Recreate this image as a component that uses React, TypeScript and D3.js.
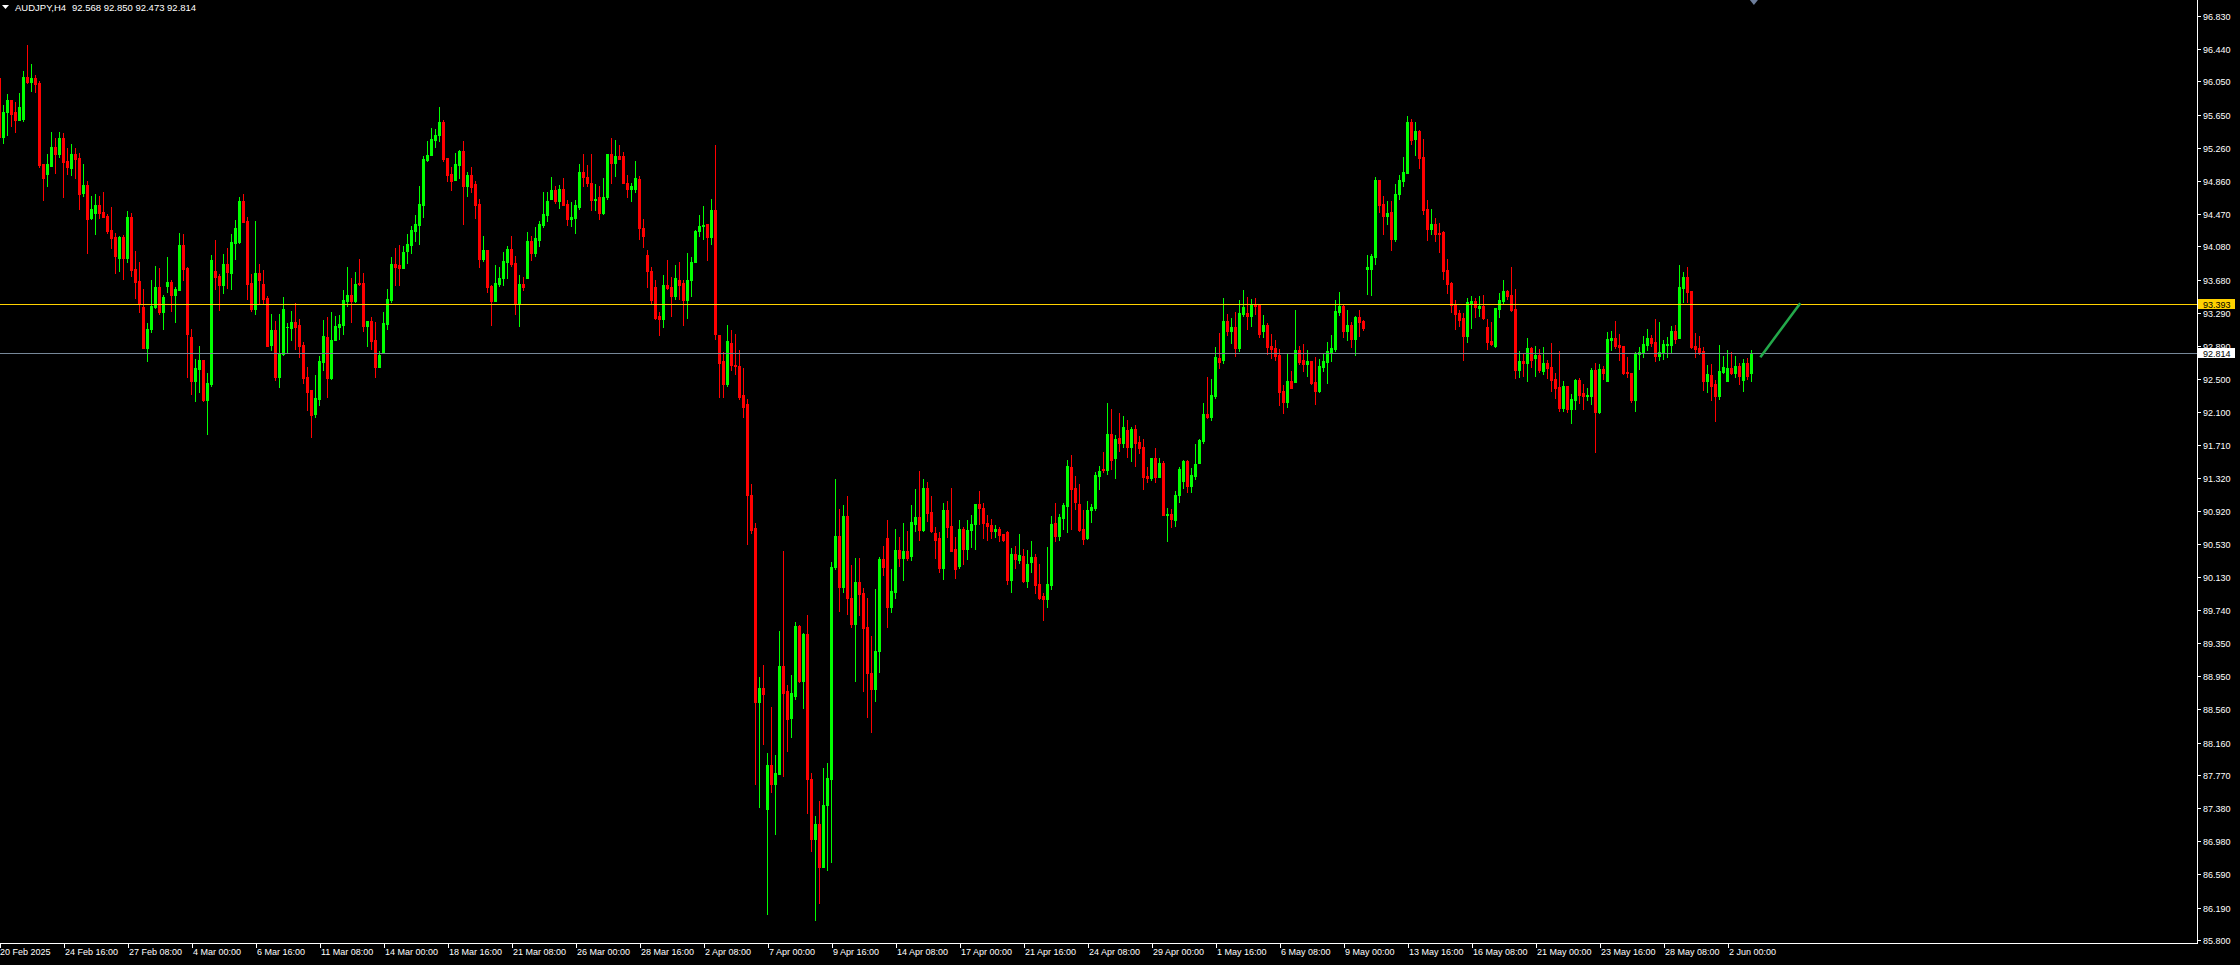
import React from "react";
import * as d3 from "d3";

const symbolName = "AUDJPY,H4";
const lastOHLC = ["92.568", "92.850", "92.473", "92.814"];

const opens: number[] = [
96.09,95.39,95.68,95.83,95.69,95.59,95.60,96.10,96.04,96.09,
96.03,95.06,94.94,95.04,95.27,95.18,95.37,95.10,95.02,95.18,
95.14,94.72,94.81,94.42,94.48,94.58,94.49,94.44,94.28,94.19,
93.94,94.19,93.94,94.43,93.81,93.67,93.36,92.87,93.10,93.36,
93.60,93.30,93.61,93.66,93.50,93.56,94.10,93.82,93.00,92.47,
92.62,92.73,92.25,92.44,93.79,93.73,93.62,93.87,93.76,94.12,
94.13,94.62,94.38,93.64,93.33,93.76,93.63,93.47,92.90,93.08,
92.52,92.80,93.12,93.11,93.18,93.14,92.90,92.52,92.37,92.08,
92.26,92.70,93.00,92.51,92.96,93.12,93.14,93.43,93.50,93.43,
93.64,93.64,93.13,93.19,92.96,92.64,92.81,93.16,93.44,93.87,
93.86,93.82,94.03,94.10,94.26,94.34,94.58,95.11,95.17,95.35,
95.41,95.57,95.14,94.95,94.87,95.05,95.22,94.80,94.93,94.83,
94.59,93.93,94.04,93.61,93.43,93.63,93.70,93.89,94.05,93.88,
93.41,93.63,93.70,94.15,94.00,94.16,94.34,94.46,94.65,94.75,
94.62,94.77,94.59,94.41,94.42,94.55,94.97,94.91,94.84,94.63,
94.67,94.48,94.67,95.18,95.07,95.16,95.16,94.84,94.77,94.77,
94.88,94.30,93.98,93.79,93.60,93.25,93.21,93.62,93.60,93.49,
93.68,93.64,93.44,93.68,93.90,94.26,94.32,94.35,94.19,94.52,
93.02,92.71,92.44,92.93,92.67,92.65,92.31,92.20,91.11,90.72,
88.64,88.81,87.37,87.89,87.67,87.78,89.07,88.77,88.45,88.72,
89.55,88.89,89.45,87.72,87.01,87.19,86.67,87.42,87.72,90.25,
90.63,90.02,90.86,89.89,89.57,90.07,89.95,89.54,88.99,88.80,
89.25,90.35,90.60,89.78,89.96,90.46,90.36,90.44,90.39,90.77,
90.85,90.70,91.20,90.91,90.66,90.60,90.24,90.94,90.74,90.47,
90.27,90.71,90.47,90.70,90.77,91.01,90.96,90.78,90.76,90.69,
90.71,90.65,90.67,90.10,90.41,90.34,90.39,90.09,90.32,90.37,
90.05,89.91,89.87,90.04,90.78,90.63,90.84,90.98,91.45,91.20,
91.01,90.71,90.60,90.93,90.96,91.34,91.43,91.41,91.84,91.55,
91.80,91.73,91.89,91.69,91.90,91.75,91.69,91.34,91.32,91.55,
91.33,91.50,90.88,90.89,90.81,91.11,91.28,91.52,91.22,91.34,
91.50,91.76,92.08,92.05,92.30,92.75,92.73,93.19,93.07,93.12,
92.87,93.27,93.29,93.25,93.39,93.38,93.07,93.14,92.89,92.87,
92.79,92.36,92.22,92.48,92.46,92.84,92.73,92.68,92.71,92.46,
92.36,92.64,92.70,92.82,92.86,93.30,93.37,93.07,93.14,92.98,
93.24,93.19,93.81,93.81,93.95,94.87,94.59,94.44,94.49,94.17,
94.71,94.86,94.96,95.57,95.36,95.46,95.15,94.53,94.29,94.35,
94.24,94.25,93.80,93.64,93.38,93.29,93.23,93.01,93.41,93.43,
93.35,93.37,93.12,92.95,92.89,93.33,93.43,93.55,93.50,93.33,
92.61,92.71,92.69,92.87,92.75,92.79,92.59,92.69,92.64,92.50,
92.40,92.15,92.42,92.14,92.25,92.49,92.33,92.30,92.30,92.61,
92.11,92.62,92.48,92.96,92.99,92.90,92.89,92.58,92.57,92.25,
92.80,92.81,92.90,92.99,92.94,92.77,92.82,92.90,92.90,93.07,
92.99,93.58,93.72,93.55,92.89,92.87,92.83,92.48,92.55,92.44,
92.30,92.58,92.48,92.63,92.57,92.65,92.49,92.69,92.568
];

const highs: number[] = [
96.15,95.77,95.90,95.83,95.80,95.91,96.17,96.48,96.26,96.13,
96.05,95.06,95.18,95.45,95.37,95.45,95.43,95.26,95.30,95.26,
95.20,95.06,94.86,94.68,94.71,94.68,94.73,94.47,94.55,94.24,
94.21,94.22,94.50,94.48,94.03,93.89,93.57,93.17,93.68,93.85,
93.82,93.50,93.95,93.68,93.60,94.24,94.23,93.84,93.10,92.74,
92.89,92.73,92.57,93.98,94.16,93.75,93.99,94.06,94.23,94.40,
94.67,94.71,94.43,93.75,94.38,93.87,93.80,93.49,93.27,93.19,
93.27,93.48,93.17,93.31,93.41,93.21,92.94,92.64,92.37,92.55,
92.77,93.20,93.24,93.30,93.25,93.26,93.56,93.84,93.70,93.78,
93.93,93.76,93.19,93.24,93.18,92.83,93.30,93.57,93.95,94.06,
94.10,94.09,94.23,94.32,94.46,94.80,95.16,95.34,95.49,95.48,
95.74,95.59,95.14,95.03,95.20,95.23,95.34,94.97,95.03,94.86,
94.65,94.21,94.04,93.62,93.86,93.84,94.01,94.09,94.21,93.97,
93.74,93.72,94.25,94.21,94.31,94.38,94.73,94.73,94.91,94.80,
94.81,94.90,94.63,94.61,94.63,95.06,95.18,95.05,95.18,94.82,
94.80,94.90,95.18,95.38,95.35,95.29,95.21,94.93,94.84,95.10,
94.92,94.41,94.04,93.83,93.68,93.30,93.74,93.92,93.72,93.86,
93.90,93.68,94.00,93.96,94.28,94.45,94.56,94.35,94.65,95.29,
93.02,92.82,93.14,93.08,93.04,92.84,92.63,92.26,91.25,90.78,
88.94,89.09,88.04,88.59,88.01,89.49,90.45,88.85,88.96,89.60,
89.56,89.47,89.68,87.80,87.28,87.46,87.86,87.91,90.32,91.31,
90.95,90.99,91.10,90.28,90.36,90.36,90.00,89.89,89.43,89.99,
90.38,90.50,90.81,90.23,90.71,90.61,90.78,90.69,91.00,91.18,
91.40,91.31,91.27,91.10,90.73,90.67,91.02,91.04,91.20,90.61,
90.81,90.73,90.81,90.88,91.01,91.16,91.02,90.88,90.83,90.76,
90.73,90.65,90.69,90.48,90.51,90.65,90.47,90.46,90.57,90.41,
90.29,89.94,90.49,90.86,91.02,90.89,91.02,91.53,91.59,91.34,
91.25,90.93,91.04,91.01,91.39,91.46,91.63,92.21,92.14,91.83,
92.09,92.06,92.01,91.92,91.95,91.82,91.78,91.45,91.55,91.68,
91.56,91.52,90.96,90.95,91.16,91.45,91.53,91.53,91.44,91.72,
91.78,92.21,92.52,92.50,92.88,93.05,93.47,93.27,93.23,93.30,
93.44,93.56,93.48,93.45,93.47,93.38,93.26,93.17,93.04,92.96,
92.86,92.43,92.80,92.59,93.32,92.89,92.92,92.84,92.71,92.76,
92.74,92.80,92.94,93.02,93.44,93.54,93.39,93.32,93.18,93.25,
93.32,93.20,93.98,93.99,94.91,94.87,94.68,94.62,94.62,94.83,
94.93,95.15,95.64,95.60,95.57,95.47,95.36,94.64,94.53,94.42,
94.36,94.27,93.93,93.66,93.44,93.32,93.29,93.47,93.49,93.47,
93.49,93.50,93.21,93.18,93.35,93.53,93.68,93.56,93.84,93.57,
92.83,92.80,92.99,92.88,92.89,92.86,92.88,92.73,92.93,92.57,
92.83,92.48,92.42,92.32,92.50,92.51,92.44,92.39,92.63,92.69,
92.68,92.65,93.06,93.07,93.19,93.04,92.89,92.76,92.57,92.82,
92.88,93.01,93.10,93.02,93.21,93.18,92.96,93.00,93.13,93.14,
93.86,93.78,93.84,93.55,93.05,93.01,92.88,92.67,92.68,92.49,
92.90,92.77,92.84,92.82,92.77,92.69,92.74,92.75,92.850
];

const lows: number[] = [
95.35,95.32,95.41,95.52,95.44,95.59,95.58,96.03,95.94,95.92,
95.03,94.63,94.80,95.04,94.96,95.15,94.67,94.94,94.93,94.90,
94.53,94.68,94.00,94.41,94.23,94.42,94.43,94.24,94.06,93.76,
93.79,93.69,93.89,93.73,93.47,93.30,92.87,92.71,93.06,93.35,
93.27,93.10,93.54,93.31,93.18,93.56,93.68,92.52,92.32,92.24,
92.34,92.24,91.84,92.42,93.57,93.32,93.52,93.58,93.57,93.93,
94.12,94.37,93.45,93.31,93.27,93.41,93.39,92.89,92.84,92.49,
92.40,92.78,92.82,92.96,92.86,92.76,92.45,92.13,91.81,92.04,
92.19,92.61,92.28,92.50,92.96,92.98,93.04,93.37,93.18,93.42,
93.62,93.07,92.89,92.86,92.52,92.64,92.81,93.10,93.42,93.62,
93.62,93.82,93.88,94.00,94.15,94.11,94.43,95.10,95.17,95.27,
95.34,95.10,94.86,94.75,94.87,94.90,94.35,94.68,94.73,94.42,
93.84,93.91,93.54,93.14,93.43,93.61,93.62,93.70,93.85,93.27,
93.13,93.56,93.70,93.92,93.97,94.09,94.31,94.38,94.65,94.60,
94.54,94.58,94.34,94.32,94.24,94.53,94.80,94.80,94.52,94.52,
94.41,94.47,94.65,94.84,94.92,95.12,94.84,94.67,94.62,94.73,
94.17,94.07,93.60,93.40,93.21,93.02,93.12,93.57,93.25,93.45,
93.45,93.14,93.23,93.49,93.89,94.20,94.17,93.92,94.11,92.97,
92.28,92.28,92.41,92.61,92.56,92.26,92.05,90.53,90.66,87.67,
87.39,88.14,86.11,87.57,87.07,87.78,87.76,88.06,88.23,88.68,
88.88,88.57,87.32,86.86,86.04,86.25,86.67,86.64,86.73,90.23,
89.73,89.96,89.69,89.54,88.90,89.68,88.78,88.47,88.28,88.66,
89.00,90.16,89.54,89.72,89.89,90.27,90.10,90.34,90.34,90.69,
90.58,90.69,90.80,90.67,90.36,90.19,90.11,90.61,90.44,90.12,
90.24,90.29,90.35,90.49,90.47,90.77,90.60,90.58,90.60,90.61,
90.56,90.57,90.05,89.96,90.24,90.30,90.07,90.02,90.19,89.94,
89.87,89.62,89.78,89.99,90.56,90.58,90.71,90.67,90.71,90.95,
90.69,90.53,90.59,90.79,90.93,91.18,91.39,91.36,91.43,91.32,
91.64,91.69,91.57,91.52,91.46,91.62,91.18,91.27,91.29,91.27,
91.33,90.88,90.57,90.73,90.74,91.03,91.20,91.15,91.15,91.31,
91.49,91.73,92.03,92.01,92.27,92.63,92.69,93.02,92.93,92.77,
92.83,93.25,93.10,93.13,93.27,93.00,93.00,92.80,92.75,92.73,
92.19,92.09,92.16,92.39,92.46,92.68,92.59,92.53,92.44,92.20,
92.34,92.59,92.45,92.71,92.83,93.26,93.00,92.96,92.88,92.79,
93.01,93.08,93.51,93.50,93.87,94.49,94.23,94.35,94.04,94.15,
94.65,94.80,94.96,95.30,95.17,95.02,94.47,94.16,94.23,94.15,
94.01,93.69,93.53,93.30,93.10,93.13,92.73,92.94,93.11,93.24,
93.25,93.21,92.86,92.90,92.88,93.24,93.41,93.45,93.31,92.51,
92.52,92.53,92.47,92.64,92.53,92.58,92.56,92.51,92.36,92.27,
92.12,92.12,92.10,91.97,92.14,92.21,92.14,92.25,92.20,91.63,
92.09,92.50,92.48,92.84,92.87,92.73,92.56,92.52,92.22,92.12,
92.62,92.76,92.84,92.89,92.71,92.73,92.74,92.76,92.82,92.93,
92.99,93.42,93.42,92.87,92.76,92.80,92.37,92.34,92.25,92.00,
92.26,92.57,92.48,92.56,92.52,92.44,92.36,92.50,92.473
];

const closes: number[] = [
95.39,95.69,95.83,95.66,95.59,95.74,96.10,96.04,96.09,96.02,
95.05,94.90,95.06,95.27,95.18,95.37,95.09,95.03,95.18,95.12,
94.71,94.81,94.41,94.53,94.58,94.48,94.43,94.26,94.18,93.97,
94.19,93.94,94.43,93.80,93.66,93.39,92.87,93.10,93.37,93.60,
93.30,93.48,93.66,93.50,93.57,94.10,93.81,93.04,92.47,92.63,
92.73,92.25,92.45,93.92,93.72,93.62,93.87,93.78,94.13,94.30,
94.62,94.37,93.63,93.33,93.76,93.68,93.45,92.89,93.08,92.52,
92.81,93.33,93.12,93.18,93.12,92.89,92.51,92.34,92.07,92.27,
92.71,93.01,92.51,92.96,93.13,93.16,93.44,93.50,93.43,93.63,
93.63,93.13,93.19,92.95,92.64,92.78,93.17,93.45,93.87,93.84,
93.82,94.01,94.11,94.28,94.35,94.59,95.12,95.17,95.36,95.41,
95.57,95.12,94.93,94.86,95.06,95.22,94.80,94.93,94.79,94.58,
93.93,94.04,93.60,93.43,93.64,93.70,93.91,94.05,93.87,93.41,
93.63,93.60,94.15,94.00,94.18,94.35,94.47,94.62,94.75,94.62,
94.77,94.58,94.41,94.43,94.58,94.97,94.91,94.84,94.63,94.65,
94.48,94.67,95.18,95.07,95.16,95.12,94.84,94.77,94.80,94.90,
94.30,94.20,93.79,93.44,93.23,93.21,93.62,93.59,93.49,93.70,
93.62,93.44,93.68,93.90,94.26,94.32,94.33,94.19,94.52,93.04,
92.69,92.44,92.95,92.67,92.65,92.28,92.16,91.11,90.70,88.64,
88.81,88.74,87.89,87.67,87.80,89.07,88.75,88.44,88.75,89.55,
88.89,89.45,87.72,87.01,87.19,86.67,87.42,87.74,90.25,90.63,
90.02,90.86,89.89,89.57,90.07,89.93,89.53,88.99,88.80,89.25,
90.35,90.25,89.78,89.97,90.46,90.36,90.44,90.36,90.79,90.85,
90.70,91.20,90.90,90.68,90.58,90.24,90.94,90.73,90.44,90.23,
90.71,90.47,90.70,90.77,91.01,90.96,90.78,90.74,90.69,90.71,
90.64,90.58,90.10,90.41,90.35,90.40,90.09,90.29,90.37,90.04,
89.89,89.87,90.05,90.77,90.63,90.85,91.00,91.46,91.18,91.03,
90.70,90.59,90.93,90.97,91.35,91.40,91.41,91.84,91.53,91.78,
91.73,91.93,91.69,91.90,91.73,91.68,91.33,91.32,91.55,91.33,
91.50,90.88,90.89,90.83,91.11,91.42,91.52,91.22,91.35,91.48,
91.77,92.08,92.05,92.31,92.76,92.70,93.19,93.07,93.12,92.87,
93.29,93.36,93.25,93.39,93.37,93.04,93.14,92.88,92.86,92.77,
92.34,92.22,92.48,92.39,92.84,92.70,92.68,92.71,92.45,92.36,
92.65,92.71,92.83,92.87,93.31,93.37,93.07,93.14,92.98,93.24,
93.18,93.11,93.83,93.97,94.87,94.58,94.44,94.48,94.17,94.71,
94.87,94.97,95.57,95.35,95.46,95.14,94.52,94.29,94.35,94.23,
94.23,93.79,93.63,93.38,93.27,93.20,93.01,93.42,93.43,93.36,
93.37,93.23,92.94,92.92,93.35,93.44,93.55,93.49,93.32,92.61,
92.71,92.69,92.87,92.73,92.79,92.61,92.69,92.63,92.49,92.39,
92.15,92.42,92.14,92.26,92.49,92.31,92.30,92.31,92.61,92.11,
92.62,92.57,92.98,92.99,92.89,92.88,92.57,92.57,92.25,92.81,
92.82,92.92,92.99,92.93,92.77,92.82,92.92,92.92,93.07,92.98,
93.60,93.72,93.54,92.88,92.86,92.82,92.48,92.56,92.42,92.30,
92.59,92.64,92.63,92.57,92.65,92.53,92.69,92.53,92.814
];

const timeLabels: string[] = [
  "20 Feb 2025", "24 Feb 16:00", "27 Feb 08:00", "4 Mar 00:00", "6 Mar 16:00",
  "11 Mar 08:00", "14 Mar 00:00", "18 Mar 16:00", "21 Mar 08:00", "26 Mar 00:00",
  "28 Mar 16:00", "2 Apr 08:00", "7 Apr 00:00", "9 Apr 16:00", "14 Apr 08:00",
  "17 Apr 00:00", "21 Apr 16:00", "24 Apr 08:00", "29 Apr 00:00", "1 May 16:00",
  "6 May 08:00", "9 May 00:00", "13 May 16:00", "16 May 08:00", "21 May 00:00",
  "23 May 16:00", "28 May 08:00", "2 Jun 00:00"
];
const barsPerTimeLabel = 16;

const priceTicks: number[] = [
  96.83, 96.44, 96.05, 95.65, 95.26, 94.86, 94.47, 94.08, 93.68, 93.29,
  92.89, 92.5, 92.1, 91.71, 91.32, 90.92, 90.53, 90.13, 89.74, 89.35,
  88.95, 88.56, 88.16, 87.77, 87.38, 86.98, 86.59, 86.19, 85.8
];

const levelPrice = 93.393;
const bidPrice = 92.814;
const trendPoints = [
  { bar: 440.4, price: 92.77 },
  { bar: 450, price: 93.39 },
];
const shiftMarkerBar = 438.6;

const WIDTH = 2240;
const HEIGHT = 965;
const PLOT_R = 2197;
const PLOT_B = 943;
const FONT = "'Liberation Sans', Arial, sans-serif";

export default function App() {
  const x = d3.scaleLinear().domain([0, 100]).range([-0.5, 399.5]);
  const y = d3.scaleLinear().domain([96.83, 85.8]).range([16, 940.3]);
  const n = Math.min(opens.length, highs.length, lows.length, closes.length);
  const bars = d3.range(n).map((i) => ({
    i,
    o: opens[i],
    h: highs[i],
    l: lows[i],
    c: closes[i],
  }));
  const trend = d3
    .line<{ bar: number; price: number }>()
    .x((d) => x(d.bar))
    .y((d) => y(d.price));

  const levelY = Math.round(y(levelPrice));
  const bidY = Math.round(y(bidPrice));
  const markerX = x(shiftMarkerBar);

  return (
    <svg
      width={WIDTH}
      height={HEIGHT}
      style={{ position: "fixed", left: 0, top: 0, display: "block" }}
    >
      <rect x={0} y={0} width={WIDTH} height={HEIGHT} fill="#000000" />

      {/* candles */}
      <g shapeRendering="crispEdges">
        {bars.map((b) => {
          const cx = x(b.i);
          const up = b.c >= b.o;
          const col = up ? "#00ff00" : "#ff0000";
          const yh = Math.round(y(b.h));
          const yl = Math.round(y(b.l));
          const yt = Math.round(y(Math.max(b.o, b.c)));
          const yb = Math.round(y(Math.min(b.o, b.c)));
          return (
            <g key={b.i}>
              <rect x={cx - 0.5} y={yh} width={1} height={Math.max(1, yl - yh + 1)} fill={col} />
              <rect x={cx - 1.5} y={yt} width={3} height={Math.max(1, yb - yt + 1)} fill={col} />
            </g>
          );
        })}
      </g>

      {/* horizontal level + bid line */}
      <g shapeRendering="crispEdges">
        <rect x={0} y={levelY} width={PLOT_R} height={1} fill="#ffd200" />
        <rect x={0} y={bidY} width={PLOT_R} height={1} fill="#778899" />
      </g>

      {/* trend line */}
      <path
        d={trend(trendPoints) || ""}
        fill="none"
        stroke="#23a84a"
        strokeWidth={2.6}
        strokeLinecap="square"
      />

      {/* shift marker */}
      <path
        d={`M${markerX - 4},0 L${markerX + 4},0 L${markerX},5 Z`}
        fill="#6e7f9c"
      />

      {/* frame */}
      <g shapeRendering="crispEdges">
        <rect x={PLOT_R} y={0} width={1} height={PLOT_B + 1} fill="#ffffff" />
        <rect x={0} y={PLOT_B} width={PLOT_R + 1} height={1} fill="#ffffff" />
      </g>

      {/* price axis */}
      <g fontFamily={FONT} fontSize={9} fill="#ffffff">
        {priceTicks.map((p) => {
          const ty = Math.round(y(p));
          return (
            <g key={p}>
              <rect x={PLOT_R} y={ty} width={4} height={1} fill="#ffffff" shapeRendering="crispEdges" />
              <text x={2203} y={ty + 3.5}>
                {p.toFixed(3)}
              </text>
            </g>
          );
        })}
      </g>

      {/* price labels */}
      <g fontFamily={FONT} fontSize={9}>
        <rect x={2198} y={levelY - 5} width={37} height={10} fill="#ffd200" shapeRendering="crispEdges" />
        <text x={2203} y={levelY + 3.5} fill="#000000">
          {levelPrice.toFixed(3)}
        </text>
        <rect x={2198} y={bidY - 5} width={37} height={10} fill="#ffffff" shapeRendering="crispEdges" />
        <text x={2203} y={bidY + 3.5} fill="#000000">
          {bidPrice.toFixed(3)}
        </text>
      </g>

      {/* time axis */}
      <g fontFamily={FONT} fontSize={9} fill="#ffffff">
        {timeLabels.map((t, k) => {
          const tx = Math.round(x(k * barsPerTimeLabel) + 0.5);
          return (
            <g key={t}>
              <rect x={tx} y={PLOT_B} width={1} height={5} fill="#ffffff" shapeRendering="crispEdges" />
              <text x={k === 0 ? 0 : tx + 1} y={955}>
                {t}
              </text>
            </g>
          );
        })}
      </g>

      {/* header */}
      <path d="M2,5 L9,5 L5.5,9 Z" fill="#ffffff" />
      <text x={15} y={10.5} fontFamily={FONT} fontSize={9.5} fill="#ffffff">
        {symbolName}
      </text>
      <text x={72} y={10.5} fontFamily={FONT} fontSize={9.5} fill="#ffffff">
        {lastOHLC.join(" ")}
      </text>
    </svg>
  );
}
